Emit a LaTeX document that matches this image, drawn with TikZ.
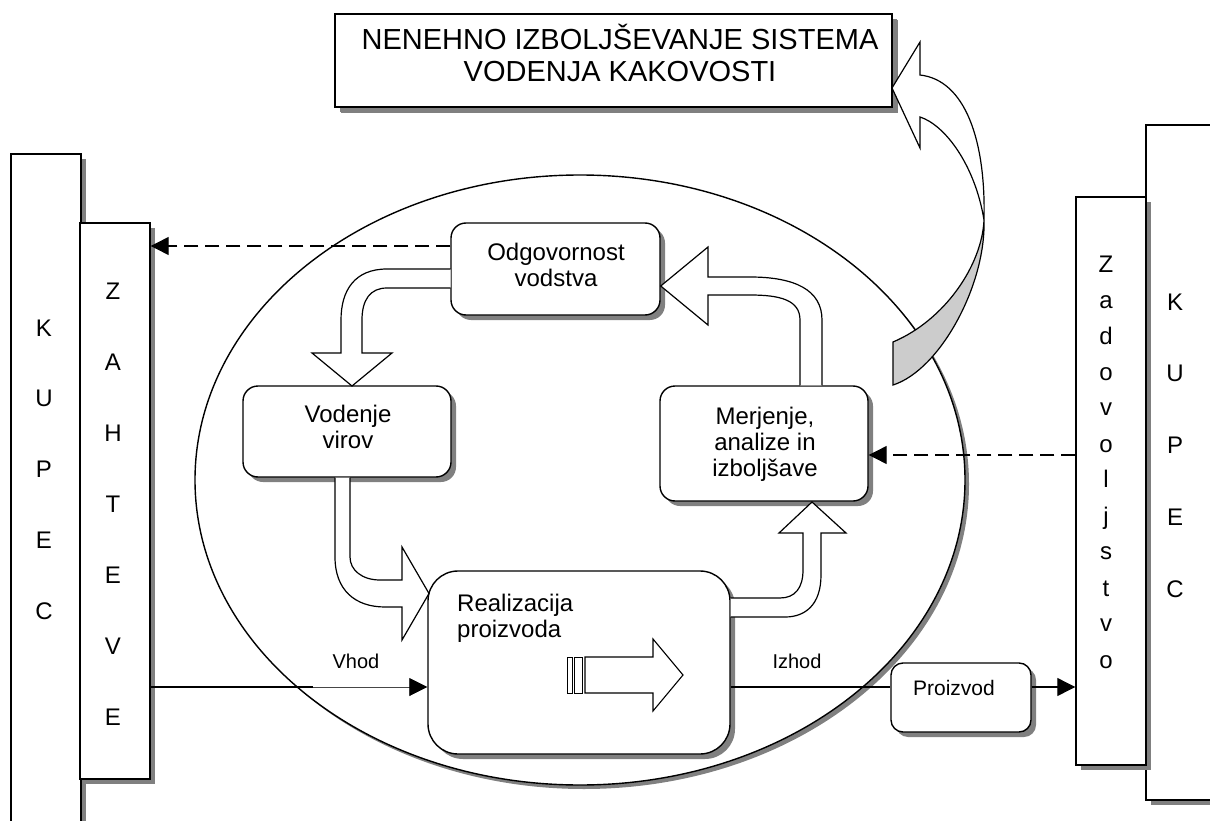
\documentclass[tikz,border=0pt]{standalone}
\usepackage{fontspec}
\setmainfont{Liberation Sans}
\usetikzlibrary{arrows.meta,shapes.geometric,shadows,calc}
\definecolor{shgray}{RGB}{128,128,128}
\definecolor{ribbon}{RGB}{204,204,204}
\definecolor{thinline}{RGB}{70,70,70}
\newcommand{\stackc}[1]{\begin{tabular}[t]{@{}c@{}}#1\end{tabular}}
\newcommand{\stackl}[1]{\begin{tabular}[t]{@{}l@{}}#1\end{tabular}}
\begin{document}
\begin{tikzpicture}[x=1pt,y=-1pt,
  shade5/.style={drop shadow={shadow xshift=5pt,shadow yshift=-5pt,fill=shgray,opacity=1}},
  panel/.style={draw,line width=1.4pt,fill=white,rectangle,inner sep=0pt,shade5},
  proc/.style={panel,rounded corners=15pt},
  txt/.style={inner sep=0pt,anchor=base},
  boxfont/.style={font=\fontsize{24}{26}\selectfont},
  colfont/.style={font=\fontsize{24}{#1}\selectfont},
  blockarrow/.style={line width=1.2pt,line join=miter},
  flow/.style={line width=1.1pt,-{Triangle[length=18pt,width=18pt,color=black]}},
  dashflow/.style={line width=1.2pt,dash pattern=on 14pt off 7pt,-{Triangle[length=18pt,width=18pt]}}
]
\useasboundingbox (0,0) rectangle (1210,821);
\clip (0,0) rectangle (1210,821);

% customer and requirement columns, left
\node[panel,minimum width=70pt,minimum height=686pt] (kupL) at (46,497) {};
\node[panel,minimum width=70pt,minimum height=556pt] (zah) at (115,501) {};
% customer and satisfaction columns, right
\node[panel,minimum width=94pt,minimum height=675pt] (kupR) at (1193,462.5) {};
\node[panel,minimum width=70pt,minimum height=568pt] (zad) at (1111,481) {};

% continual improvement box
\node[panel,line width=1.5pt,minimum width=557pt,minimum height=93pt,
      drop shadow={shadow xshift=6pt,shadow yshift=-6pt,fill=shgray,opacity=1}] (ttl) at (613.5,60.5) {};

% quality management system
\node[draw,line width=1.4pt,fill=white,ellipse,inner sep=0pt,minimum width=770pt,minimum height=610pt,
      drop shadow={shadow xshift=4pt,shadow yshift=-4pt,fill=shgray,opacity=1}] (sys) at (580,480) {};

% process boxes
\node[proc,minimum width=209pt,minimum height=92pt] (odg) at (555.5,269) {};
\node[proc,minimum width=208pt,minimum height=91pt] (vod) at (347,431.5) {};
\node[proc,rounded corners=30pt,minimum width=302pt,minimum height=183pt] (real) at (579,662.5) {};
\node[proc,minimum width=208pt,minimum height=115pt] (merj) at (764,443.5) {};
\node[proc,rounded corners=12pt,minimum width=140pt,minimum height=69pt] (proiz) at (961,697.5) {};

% hollow bent arrows of the process loop
\fill[white] (450.5,269) -- (387,269) .. controls (355,269) and (341,290) .. (341,320) -- (341,353) -- (312,353) -- (352,386)
  -- (392,353) -- (362,353) -- (362,320) .. controls (362,300) and (370,288) .. (387,288) -- (450.5,288) -- cycle;
\draw[blockarrow] (450.5,269) -- (387,269) .. controls (355,269) and (341,290) .. (341,320) -- (341,353) -- (312,353) -- (352,386)
  -- (392,353) -- (362,353) -- (362,320) .. controls (362,300) and (370,288) .. (387,288) -- (450.5,288);

\fill[white] (335,477.7) -- (335,557) .. controls (335,590) and (355,607) .. (385,607) -- (402,607) -- (402,640) -- (429,593.5)
  -- (402,547) -- (402,580) -- (380,580) .. controls (362,580) and (350,570) .. (350,557) -- (350,477.7) -- cycle;
\draw[blockarrow] (335,477.7) -- (335,557) .. controls (335,590) and (355,607) .. (385,607) -- (402,607) -- (402,640) -- (429,593.5)
  -- (402,547) -- (402,580) -- (380,580) .. controls (362,580) and (350,570) .. (350,557) -- (350,477.7);

\fill[white] (730.7,598) -- (780,598) .. controls (795,598) and (803,588) .. (803,570) -- (803,533) -- (779,533) -- (812,502)
  -- (846,533) -- (821,533) -- (821,575) .. controls (821,605) and (805,617) .. (785,617) -- (730.7,617) -- cycle;
\draw[blockarrow] (730.7,598) -- (780,598) .. controls (795,598) and (803,588) .. (803,570) -- (803,533) -- (779,533) -- (812,502)
  -- (846,533) -- (821,533) -- (821,575) .. controls (821,605) and (805,617) .. (785,617) -- (730.7,617);

\fill[white] (800,385.3) -- (800,320) .. controls (800,300) and (780,295) .. (750,295) -- (708,295) -- (708,325) -- (660.7,286)
  -- (708,247) -- (708,277) -- (750,277) .. controls (795,277) and (822,290) .. (822,320) -- (822,385.3) -- cycle;
\draw[blockarrow] (800,385.3) -- (800,320) .. controls (800,300) and (780,295) .. (750,295) -- (708,295) -- (708,325) -- (660.7,286)
  -- (708,247) -- (708,277) -- (750,277) .. controls (795,277) and (822,290) .. (822,320) -- (822,385.3);

% striped block arrow inside product realisation
\draw[line width=0.9pt,fill=white] (567,657) rectangle (572,693);
\draw[line width=0.9pt,fill=white] (574,657) rectangle (582,693);
\draw[blockarrow,line width=1.1pt,fill=white] (585,657) -- (653,657) -- (653,639) -- (683,675) -- (653,711) -- (653,693) -- (585,693) -- cycle;

% information and product flows
\draw[dashflow] ($(odg.west)+(0,-23)$) coordinate (dl) -- (zah.east |- dl);
\coordinate (dr) at ($(merj.east)+(0,11.5)$);
\draw[dashflow] (zad.west |- dr) -- (dr);
\coordinate (vh) at ($(real.west)+(0,24.5)$);
\coordinate (vhmid) at ($(zah.east |- vh)+(162,0)$);
\draw[flow,line width=0.8pt,draw=thinline] (zah.east |- vh) -- (vh);
\draw[line width=1.3pt] (zah.east |- vh) -- (vhmid);
\draw[line width=1.1pt] (real.east |- vh) -- (proiz.west |- vh);
\draw[flow] (proiz.east |- vh) -- (zad.west |- vh);

% curved feedback arrow towards continual improvement
\filldraw[fill=white,blockarrow] (984,220) .. controls (986,140) and (965,80) .. (920,75) -- (920,42) -- (892,88) -- (920,148)
  -- (920,117) .. controls (945,125) and (975,165) .. (984,220) -- cycle;
\filldraw[fill=ribbon,blockarrow] (984,220) .. controls (982,265) and (945,320) .. (893,342) -- (893,385)
  .. controls (940,370) and (986,285) .. (984,220) -- cycle;

% labels
\node[txt,font=\fontsize{29}{32}\selectfont] (ttlT) at (620,50) {\stackc{NENEHNO IZBOLJŠEVANJE SISTEMA\\VODENJA KAKOVOSTI}};
\node[txt,boxfont] (odgT) at (556,260.5) {\stackc{Odgovornost\\vodstva}};
\node[txt,boxfont] (vodT) at (348,422) {\stackc{Vodenje\\virov}};
\node[txt,boxfont] (merjT) at (765,424) {\stackc{Merjenje,\\analize in\\izboljšave}};
\node[txt,boxfont,anchor=base west] (realT) at (457,611) {\stackl{Realizacija\\proizvoda}};
\node[txt,font=\fontsize{21}{24}\selectfont] (proizT) at (954,695) {Proizvod};
\node[txt,font=\fontsize{20}{23}\selectfont] (vhodT) at (356,668) {Vhod};
\node[txt,font=\fontsize{20}{23}\selectfont] (izhodT) at (797,668) {Izhod};
\node[txt,colfont=70.8] (kupLT) at (44,336) {\stackc{K\\U\\P\\E\\C}};
\node[txt,colfont=71] (zahT) at (113,299) {\stackc{Z\\A\\H\\T\\E\\V\\E}};
\node[txt,colfont=71.8] (kupRT) at (1175,310) {\stackc{K\\U\\P\\E\\C}};
\node[txt,colfont=36] (zadT) at (1106,272) {\stackc{Z\\a\\d\\o\\v\\o\\l\\j\\s\\t\\v\\o}};
\end{tikzpicture}
\end{document}
